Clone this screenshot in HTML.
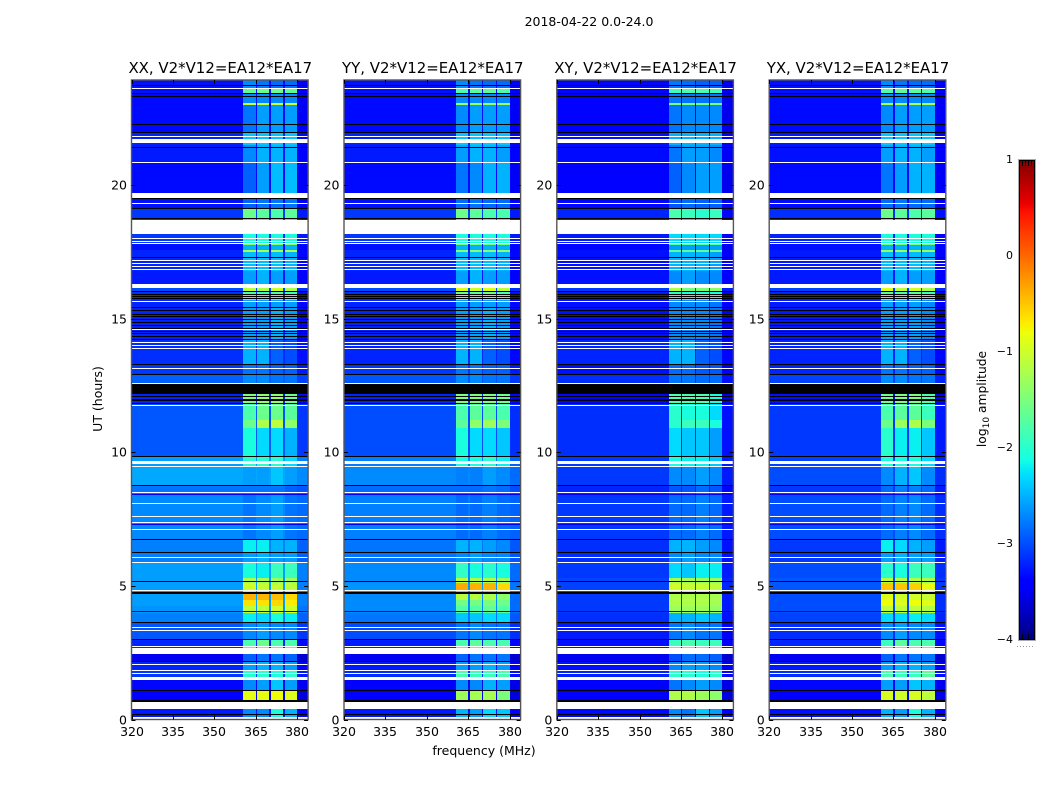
<!DOCTYPE html>
<html lang="en">
<head>
<meta charset="utf-8">
<title>2018-04-22 spectrogram</title>
<style>
html,body{margin:0;padding:0;background:#fff;width:1050px;height:800px;overflow:hidden}
svg{display:block}
text{font-family:"DejaVu Sans","Liberation Sans",sans-serif;fill:#000}
</style>
</head>
<body>
<svg id="chart" width="1050" height="800" viewBox="0 0 1050 800" xmlns="http://www.w3.org/2000/svg"></svg>
<script>
// Values are band averages; per-pixel noise is not reproduced.
const figureTitle = "2018-04-22 0.0-24.0";
const polarisations = ["XX", "YY", "XY", "YX"];
const baselineLabel = ", V2*V12=EA12*EA17";
const freqTicks = [320, 335, 350, 365, 380];
const utTicks = [0, 5, 10, 15, 20];
const colorTicks = [1, 0, -1, -2, -3, -4];
const freqEdges = [320, 360.5, 365, 365.5, 370, 370.5, 375, 375.5, 380, 384];
const bandEdges = [0.09,0.39,0.73,1.07,1.59,1.85,2.15,2.45,2.98,3.65,3.99,4.25,4.48,4.70,5.10,5.30,5.90,6.27,6.72,8.40,8.78,9.46,9.87,10.90,11.20,11.80,12.16,12.56,12.95,13.30,14.20,15.45,15.70,16.05,16.20,16.80,17.52,17.58,17.78,17.83,18.20,18.75,19.12,19.70,20.85,21.50,22.00,23.03,23.08,23.45,23.62,24.00];

// each row: background, sub-band 1, sub-band 2, sub-band 3, sub-band 4 (log10 amplitude)
const xxLevels = [
[-3.25,-2.7,-2.7,-2.1,-2.5],[-3.3,-2.7,-2.7,-2.7,-2.7],[-3.45,-0.85,-0.85,-0.8,-0.9],[-3.35,-2.7,-2.6,-2.4,-2.6],
[-3.1,-2.0,-2.0,-2.1,-2.0],[-3.2,-2.6,-2.5,-2.5,-2.6],[-3.5,-2.9,-2.8,-2.8,-2.9],[-3.2,-1.8,-1.6,-1.8,-1.8],
[-2.95,-2.7,-2.6,-2.7,-2.7],[-2.75,-2.2,-2.3,-2.1,-2.2],[-2.65,-1.1,-1.1,-1.0,-1.0],[-2.6,-0.65,-0.65,-0.6,-0.7],
[-2.6,-0.4,-0.4,-0.45,-0.6],[-2.6,-1.0,-1.05,-1.05,-1.1],[-2.6,-1.2,-1.25,-1.3,-1.3],[-2.6,-2.1,-2.2,-1.9,-1.9],
[-2.75,-2.6,-2.5,-2.6,-2.6],[-2.75,-2.2,-2.2,-2.5,-2.5],[-2.7,-2.8,-2.7,-2.6,-2.8],[-2.8,-2.8,-2.8,-2.8,-2.9],
[-2.55,-2.6,-2.6,-2.4,-2.6],[-2.6,-2.0,-2.0,-2.0,-2.3],[-2.95,-2.1,-2.3,-2.3,-2.5],[-2.95,-1.6,-1.2,-1.1,-1.4],
[-2.95,-1.8,-1.6,-1.6,-1.7],[-3.2,-1.5,-1.4,-1.4,-1.6],[-3.2,-1.5,-1.4,-1.4,-1.6],[-2.9,-2.7,-2.7,-2.8,-2.8],
[-3.1,-2.8,-2.8,-2.9,-2.9],[-3.15,-2.5,-2.5,-2.9,-3.0],[-3.2,-2.6,-2.6,-2.5,-2.6],[-3.2,-2.6,-2.6,-2.6,-2.6],
[-3.15,-1.8,-1.9,-1.8,-1.9],[-3.0,-1.1,-1.2,-1.0,-1.2],[-3.25,-2.6,-2.5,-2.6,-2.6],[-3.2,-2.45,-2.45,-2.45,-2.5],
[-3.2,-1.2,-1.2,-1.2,-1.2],[-3.3,-2.5,-2.5,-2.5,-2.5],[-3.3,-1.4,-1.4,-1.4,-1.4],[-3.1,-2.1,-2.1,-2.1,-2.1],
[-3.1,-2.1,-2.1,-2.1,-2.1],[-3.1,-1.6,-1.7,-1.8,-1.7],[-3.3,-2.9,-2.8,-2.8,-2.8],[-3.33,-2.9,-2.6,-2.45,-2.45],
[-3.25,-2.7,-2.5,-2.5,-2.5],[-3.2,-2.4,-2.4,-2.4,-2.4],[-3.33,-2.8,-2.6,-2.6,-2.6],[-3.33,-1.0,-1.0,-1.0,-1.0],
[-3.33,-2.7,-2.7,-2.7,-2.7],[-3.3,-1.7,-1.6,-1.6,-1.7],[-3.3,-2.7,-2.8,-2.85,-2.85]];
const yyLevels = [
[-3.25,-2.5,-2.6,-2.3,-2.4],[-3.3,-2.7,-2.7,-2.7,-2.7],[-3.45,-1.3,-1.25,-1.25,-1.5],[-3.4,-2.7,-2.7,-2.5,-2.6],
[-3.15,-1.8,-1.9,-1.9,-1.8],[-3.25,-2.6,-2.6,-2.5,-2.6],[-3.5,-2.9,-2.8,-2.8,-2.8],[-3.25,-1.8,-1.7,-1.8,-1.8],
[-3.0,-2.8,-2.7,-2.8,-2.8],[-2.8,-2.4,-2.4,-2.3,-2.3],[-2.7,-1.75,-1.75,-1.65,-1.75],[-2.7,-1.55,-1.55,-1.5,-1.6],
[-2.7,-1.15,-1.15,-1.2,-1.4],[-2.65,-0.35,-0.4,-0.4,-0.6],[-2.7,-1.1,-1.2,-1.2,-1.3],[-2.7,-1.95,-2.1,-2.0,-2.1],
[-2.8,-2.7,-2.6,-2.7,-2.7],[-2.8,-2.5,-2.5,-2.6,-2.7],[-2.75,-2.85,-2.85,-2.75,-2.85],[-2.85,-2.85,-2.85,-2.8,-2.85],
[-2.7,-2.75,-2.75,-2.6,-2.7],[-2.75,-2.1,-2.1,-2.0,-2.2],[-3.0,-2.1,-2.3,-2.3,-2.4],[-3.0,-1.7,-1.4,-1.3,-1.5],
[-3.0,-1.8,-1.7,-1.7,-1.8],[-3.2,-1.5,-1.5,-1.5,-1.6],[-3.2,-1.5,-1.5,-1.5,-1.6],[-2.95,-2.7,-2.7,-2.8,-2.8],
[-3.1,-2.8,-2.8,-2.9,-2.9],[-3.2,-2.5,-2.5,-2.9,-3.0],[-3.2,-2.6,-2.6,-2.5,-2.6],[-3.2,-2.6,-2.6,-2.6,-2.6],
[-3.15,-1.6,-1.7,-1.6,-1.8],[-3.0,-0.9,-1.0,-0.9,-1.1],[-3.25,-2.6,-2.5,-2.6,-2.6],[-3.2,-2.45,-2.45,-2.45,-2.5],
[-3.2,-1.4,-1.4,-1.4,-1.4],[-3.3,-2.5,-2.5,-2.5,-2.5],[-3.3,-1.5,-1.5,-1.5,-1.5],[-3.1,-2.1,-2.1,-2.1,-2.1],
[-3.1,-2.1,-2.1,-2.1,-2.1],[-3.1,-1.6,-1.7,-1.8,-1.8],[-3.3,-2.85,-2.8,-2.85,-2.85],[-3.33,-2.8,-2.7,-2.5,-2.5],
[-3.25,-2.6,-2.5,-2.5,-2.6],[-3.2,-2.4,-2.4,-2.4,-2.4],[-3.33,-2.7,-2.6,-2.6,-2.6],[-3.33,-1.3,-1.3,-1.3,-1.3],
[-3.33,-2.7,-2.7,-2.7,-2.7],[-3.3,-1.8,-1.7,-1.7,-1.8],[-3.3,-2.7,-2.8,-2.85,-2.85]];
const xyLevels = [
[-3.33,-2.7,-2.8,-2.4,-2.6],[-3.35,-2.8,-2.8,-2.8,-2.8],[-3.45,-1.2,-1.2,-1.3,-1.4],[-3.4,-2.8,-2.7,-2.6,-2.7],
[-3.2,-2.0,-2.0,-2.1,-2.0],[-3.3,-2.7,-2.6,-2.6,-2.7],[-3.5,-3.0,-2.85,-2.85,-2.9],[-3.3,-1.9,-1.8,-1.9,-1.9],
[-3.25,-2.8,-2.7,-2.8,-2.8],[-3.15,-2.5,-2.5,-2.4,-2.5],[-3.1,-1.3,-1.3,-1.3,-1.35],[-3.1,-1.2,-1.2,-1.2,-1.25],
[-3.1,-1.2,-1.2,-1.2,-1.25],[-3.05,-1.0,-1.05,-1.05,-1.1],[-3.05,-1.2,-1.25,-1.3,-1.3],[-3.1,-2.3,-2.4,-2.2,-2.2],
[-3.15,-2.7,-2.6,-2.7,-2.7],[-3.15,-2.5,-2.5,-2.6,-2.7],[-3.1,-2.85,-2.85,-2.75,-2.85],[-3.2,-2.95,-2.95,-2.85,-2.95],
[-3.1,-2.7,-2.7,-2.6,-2.7],[-3.1,-2.1,-2.2,-2.2,-2.4],[-3.15,-2.3,-2.4,-2.4,-2.6],[-3.15,-2.0,-1.9,-1.9,-2.1],
[-3.15,-2.0,-2.1,-2.1,-2.3],[-3.35,-1.8,-1.8,-1.8,-2.1],[-3.35,-1.8,-1.8,-1.8,-2.1],[-3.15,-2.8,-2.8,-2.85,-2.85],
[-3.3,-2.85,-2.85,-2.95,-2.95],[-3.2,-2.5,-2.5,-2.9,-3.0],[-3.3,-2.7,-2.7,-2.7,-2.8],[-3.3,-2.7,-2.7,-2.7,-2.8],
[-3.25,-2.0,-2.1,-2.0,-2.1],[-3.1,-1.2,-1.5,-1.5,-1.4],[-3.3,-2.7,-2.6,-2.7,-2.7],[-3.3,-2.5,-2.5,-2.5,-2.6],
[-3.3,-1.7,-1.7,-1.7,-1.7],[-3.35,-2.6,-2.6,-2.6,-2.6],[-3.35,-1.7,-1.7,-1.7,-1.7],[-3.25,-2.3,-2.3,-2.3,-2.3],
[-3.25,-2.3,-2.3,-2.3,-2.3],[-3.2,-1.8,-1.9,-2.0,-1.9],[-3.35,-2.95,-2.85,-2.9,-2.9],[-3.37,-2.9,-2.7,-2.6,-2.6],
[-3.33,-2.8,-2.6,-2.6,-2.7],[-3.3,-2.5,-2.5,-2.5,-2.5],[-3.37,-2.8,-2.7,-2.7,-2.7],[-3.37,-1.5,-1.5,-1.5,-1.5],
[-3.37,-2.8,-2.8,-2.8,-2.8],[-3.35,-1.9,-1.8,-1.8,-1.9],[-3.35,-2.8,-2.85,-2.9,-2.9]];
const yxLevels = [
[-3.3,-2.5,-2.6,-2.1,-2.5],[-3.3,-2.7,-2.7,-2.7,-2.7],[-3.4,-0.95,-1.0,-0.95,-1.1],[-3.35,-2.6,-2.6,-2.4,-2.5],
[-3.15,-1.8,-1.9,-1.9,-1.7],[-3.25,-2.6,-2.5,-2.5,-2.6],[-3.5,-2.9,-2.8,-2.8,-2.8],[-3.2,-1.9,-1.7,-1.8,-1.8],
[-3.15,-2.7,-2.6,-2.7,-2.7],[-3.05,-2.3,-2.3,-2.2,-2.3],[-3.0,-1.1,-1.1,-1.1,-1.15],[-3.0,-0.8,-0.9,-0.8,-0.9],
[-3.0,-0.9,-1.0,-1.0,-1.05],[-2.95,-0.5,-0.5,-0.55,-0.85],[-2.95,-1.1,-1.15,-1.15,-1.2],[-3.0,-2.0,-2.1,-1.9,-1.9],
[-3.1,-2.6,-2.5,-2.6,-2.6],[-3.1,-2.2,-2.3,-2.5,-2.6],[-3.0,-2.85,-2.75,-2.7,-2.85],[-3.1,-2.85,-2.75,-2.75,-2.85],
[-3.0,-2.7,-2.5,-2.4,-2.7],[-3.05,-2.1,-2.1,-2.1,-2.3],[-3.1,-2.0,-2.2,-2.2,-2.4],[-3.1,-1.6,-1.3,-1.2,-1.5],
[-3.1,-1.8,-1.7,-1.7,-1.9],[-3.3,-1.6,-1.5,-1.5,-1.8],[-3.3,-1.6,-1.5,-1.5,-1.8],[-3.05,-2.7,-2.7,-2.8,-2.8],
[-3.2,-2.8,-2.8,-2.9,-2.9],[-3.2,-2.5,-2.5,-2.9,-3.0],[-3.25,-2.6,-2.6,-2.6,-2.7],[-3.25,-2.6,-2.6,-2.6,-2.7],
[-3.2,-1.7,-1.8,-1.7,-1.9],[-3.05,-0.9,-1.1,-1.0,-1.2],[-3.25,-2.6,-2.5,-2.6,-2.6],[-3.25,-2.45,-2.45,-2.45,-2.5],
[-3.25,-1.3,-1.3,-1.3,-1.3],[-3.3,-2.5,-2.5,-2.5,-2.5],[-3.3,-1.5,-1.5,-1.5,-1.5],[-3.2,-2.1,-2.1,-2.1,-2.1],
[-3.2,-2.1,-2.1,-2.1,-2.1],[-3.15,-1.6,-1.7,-1.8,-1.7],[-3.33,-2.85,-2.8,-2.85,-2.85],[-3.33,-2.8,-2.6,-2.5,-2.5],
[-3.3,-2.6,-2.5,-2.5,-2.6],[-3.25,-2.4,-2.4,-2.4,-2.4],[-3.33,-2.7,-2.6,-2.6,-2.6],[-3.33,-1.2,-1.2,-1.2,-1.2],
[-3.33,-2.7,-2.7,-2.7,-2.7],[-3.3,-1.8,-1.7,-1.7,-1.8],[-3.3,-2.7,-2.8,-2.85,-2.85]];
const panelLevels = [xxLevels, yyLevels, xyLevels, yxLevels];

// flagged integrations in UT hours
const whiteSpans = [[0,0.09],[0.39,0.66],[1.48,1.59],[2.47,2.68],[9.57,9.69],[16.16,16.32],[18.18,18.71],[19.53,19.72],[21.58,21.75]];
const whiteLines = [1.73,1.83,2.07,2.73,3.34,3.44,4.84,5.87,6.07,7.12,7.39,7.61,8.10,8.49,9.46,11.75,12.59,13.15,13.91,14.00,14.13,14.59,15.65,16.86,16.96,17.07,17.20,17.82,17.92,18.02,19.33,20.85,21.83,23.62];
const blackSpans = [[0.66,0.73],[4.70,4.78],[6.24,6.28],[12.19,12.56]];
const blackLines = [0.18,1.09,2.165,3.0,3.64,5.16,6.73,8.76,9.86,11.85,11.93,12.0,12.08,12.91,13.29,14.24,14.34,14.45,14.53,14.66,14.76,14.88,14.98,15.08,15.18,15.30,15.42,15.76,15.83,15.93,16.02,17.31,18.75,19.15,19.5,21.44,22.0,22.27,23.35,23.43,23.76];
const dimLines = [4.03,7.32,8.41];
const dimLevel = -3.45;

const svg = document.getElementById('chart');
const NS = 'http://www.w3.org/2000/svg';
const panelLeft = [131.5, 344, 556.8, 769.2];
const panelWidth = 176.6;
const axisTop = 80, axisBottom = 719.5;
const freqMin = 320, freqMax = 384, utMax = 23.95;

function xScale(f, i) { return panelLeft[i] + (f - freqMin) / (freqMax - freqMin) * panelWidth; }
function yScale(u) { return axisBottom - u / utMax * (axisBottom - axisTop); }
function snapY(u) { return Math.round(Math.max(axisTop, yScale(u))); }

function interp(stops, t) {
  if (t <= stops[0][0]) return stops[0][1];
  for (let k = 1; k < stops.length; k++) {
    if (t <= stops[k][0]) {
      const a = stops[k - 1], b = stops[k];
      return a[1] + (b[1] - a[1]) * (t - a[0]) / (b[0] - a[0]);
    }
  }
  return stops[stops.length - 1][1];
}
const jetR = [[0,0],[0.35,0],[0.66,1],[0.89,1],[1,0.5]];
const jetG = [[0,0],[0.125,0],[0.375,1],[0.64,1],[0.91,0],[1,0]];
const jetB = [[0,0.5],[0.11,1],[0.34,1],[0.65,0],[1,0]];
function jet(v) {
  const t = Math.max(0, Math.min(1, (v + 4) / 5));
  return 'rgb(' + Math.round(interp(jetR, t) * 255) + ',' + Math.round(interp(jetG, t) * 255) + ',' + Math.round(interp(jetB, t) * 255) + ')';
}

function make(tag, attrs, parent) {
  const el = document.createElementNS(NS, tag);
  for (const k in attrs) el.setAttribute(k, attrs[k]);
  (parent || svg).appendChild(el);
  return el;
}

function spanRect(group, i, lo, hi, fill, name) {
  const x0 = Math.round(xScale(freqMin, i));
  const x1 = Math.round(xScale(freqMax, i));
  const y0 = snapY(hi);
  const y1 = snapY(lo);
  const r = make('rect', {x: x0, y: y0, width: x1 - x0, height: Math.max(1, y1 - y0), fill: fill}, group);
  
  
  return r;
}

const lineHours = 0.018;
polarisations.forEach(function (pol, i) {
  const group = make('g', {'shape-rendering': 'crispEdges'});
  
  
  const levels = panelLevels[i];
  for (let b = 0; b < levels.length; b++) {
    const row = levels[b];
    const y0 = snapY(bandEdges[b + 1]);
    const y1 = snapY(bandEdges[b]);
    for (let c = 0; c < freqEdges.length - 1; c++) {
      let v;
      if (c === freqEdges.length - 2) v = row[0] - 0.15;
      else if (c % 2 === 0) v = row[0];
      else v = row[(c + 1) / 2];
      const x0 = Math.round(xScale(freqEdges[c], i));
      const x1 = Math.round(xScale(freqEdges[c + 1], i));
      const cell = make('rect', {x: x0, y: y0, width: Math.max(1, x1 - x0), height: Math.max(1, y1 - y0), fill: jet(v)}, group);
      
      
    }
  }
  dimLines.forEach(function (u) { spanRect(group, i, u - lineHours, u + lineHours, jet(dimLevel), 'dim-integration'); });
  blackSpans.forEach(function (s) { spanRect(group, i, s[0], s[1], '#000', 'zero-span'); });
  blackLines.forEach(function (u) { spanRect(group, i, u - lineHours, u + lineHours, '#000', 'zero-line'); });
  whiteSpans.forEach(function (s) { spanRect(group, i, s[0], s[1], '#fff', 'flagged-span'); });
  whiteLines.forEach(function (u) { spanRect(group, i, u - lineHours, u + lineHours, '#fff', 'flagged-line'); });

  // axes frame
  const left = panelLeft[i], right = left + panelWidth;
  const frame = make('rect', {x: left, y: axisTop, width: panelWidth, height: axisBottom - axisTop, fill: 'none', stroke: '#555', 'stroke-width': 1.4});
  
  

  // ticks + labels
  freqTicks.forEach(function (f) {
    const x = Math.round(xScale(f, i)) + 0.5;
    const t1 = make('line', {x1: x, x2: x, y1: axisBottom, y2: axisBottom - 4, stroke: '#000', 'stroke-width': 1});
    
    
    const t2 = make('line', {x1: x, x2: x, y1: axisTop, y2: axisTop + 4, stroke: '#000', 'stroke-width': 1});
    
    
    const lab = make('text', {x: x - 0.5, y: 736, 'font-size': 12.5, 'text-anchor': 'middle'});
    lab.textContent = String(f);
    
    
  });
  utTicks.forEach(function (u) {
    const y = Math.round(yScale(u)) + 0.5;
    const t1 = make('line', {x1: left, x2: left + 4, y1: y, y2: y, stroke: '#000', 'stroke-width': 1});
    
    
    const t2 = make('line', {x1: right - 4, x2: right, y1: y, y2: y, stroke: '#000', 'stroke-width': 1});
    
    
    const lab = make('text', {x: left - 4.5, y: y + 4, 'font-size': 12.5, 'text-anchor': 'end'});
    lab.textContent = String(u);
    
    
  });

  const title = make('text', {x: left + panelWidth / 2 + 0.5, y: 73, 'font-size': 14.95, 'text-anchor': 'middle'});
  title.textContent = pol + baselineLabel;
  
  
});

const sup = make('text', {x: 589, y: 26, 'font-size': 12.5, 'text-anchor': 'middle'});
sup.textContent = figureTitle;



const xTitle = make('text', {x: 484, y: 755, 'font-size': 12.5, 'text-anchor': 'middle'});
xTitle.textContent = 'frequency (MHz)';



const yTitle = make('text', {'font-size': 12.5, 'text-anchor': 'middle', transform: 'translate(102 399) rotate(-90)'});
yTitle.textContent = 'UT (hours)';



// colour bar
const cbLeft = 1019, cbRight = 1035, cbTop = 160, cbBottom = 640;
function cbY(v) { return cbTop + (1 - v) / 5 * (cbBottom - cbTop); }
const cbGroup = make('g', {'shape-rendering': 'crispEdges'});


for (let y = cbTop; y < cbBottom; y += 2) {
  const v = 1 - (y + 1 - cbTop) / (cbBottom - cbTop) * 5;
  const r = make('rect', {x: cbLeft, y: y, width: cbRight - cbLeft, height: 2, fill: jet(v)}, cbGroup);
  
  
}
const cbInner = make('rect', {x: cbLeft + 0.5, y: cbTop + 0.5, width: cbRight - cbLeft - 1, height: cbBottom - cbTop - 1, fill: 'none', stroke: '#000', 'stroke-width': 1});


const cbOuter = make('rect', {x: cbLeft - 0.5, y: cbTop - 0.5, width: cbRight - cbLeft + 1, height: cbBottom - cbTop + 1, fill: 'none', stroke: '#aaa', 'stroke-width': 1});


colorTicks.forEach(function (v) {
  const lab = make('text', {x: 1013, y: cbY(v) + 3, 'font-size': 11, 'text-anchor': 'end'});
  lab.textContent = v < 0 ? '\u2212' + Math.abs(v) : String(v);
  
  
});
[3, 6, 9, 12].forEach(function (dx) {
  const a = make('line', {x1: cbLeft + dx + 0.5, x2: cbLeft + dx + 0.5, y1: cbTop, y2: cbTop + 6, stroke: '#000', 'stroke-width': 1});
  
  
  const b = make('line', {x1: cbLeft + dx + 0.5, x2: cbLeft + dx + 0.5, y1: cbBottom - 6, y2: cbBottom, stroke: '#000', 'stroke-width': 1});
  
  
});
[0, 3, 6, 9, 12, 15].forEach(function (dx) {
  const d = make('rect', {x: 1017 + dx, y: 646, width: 1, height: 1, fill: '#999'});
  
  
});
const cbTitle = make('text', {'font-size': 12.3, 'text-anchor': 'middle', transform: 'translate(986 399) rotate(-90)'});


const s1 = make('tspan', {}, cbTitle);
s1.textContent = 'log';
const s2 = make('tspan', {dy: 3, 'font-size': 9}, cbTitle);
s2.textContent = '10';
const s3 = make('tspan', {dy: -3}, cbTitle);
s3.textContent = ' amplitude';
</script>
</body>
</html>
